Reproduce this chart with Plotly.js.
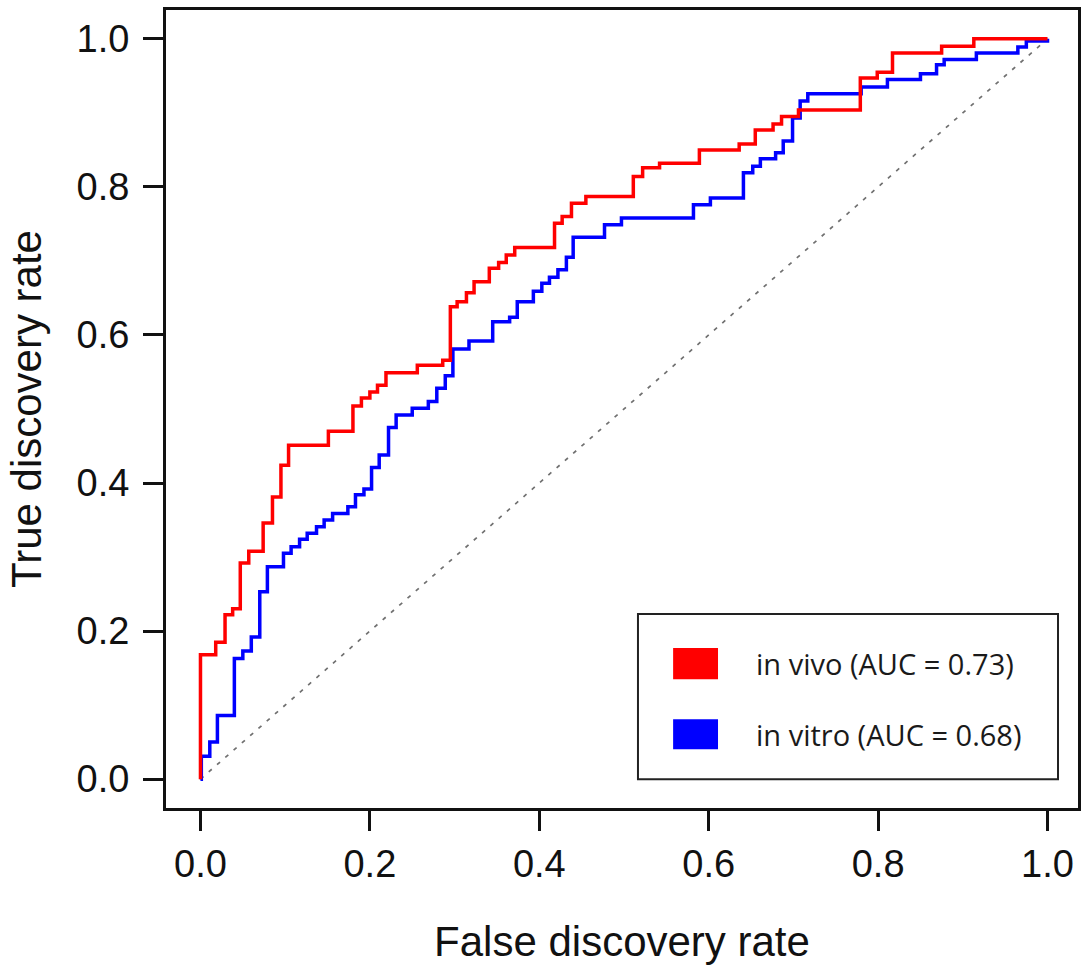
<!DOCTYPE html>
<html>
<head>
<meta charset="utf-8">
<script src="https://cdn.plot.ly/plotly-3.0.1.min.js"></script>
<style>html,body{margin:0;padding:0;background:#fff;}#chart{width:1082px;height:967px;}</style>
</head>
<body>
<div id="chart"></div>
<script>
// Series names
const seriesNames = ["in vivo (AUC = 0.73)", "in vitro (AUC = 0.68)"];
const seriesColors = ["#ff0000", "#0000ff"];

// in vivo ROC staircase: x = false discovery rate where a step occurs, y = new level
const vivoFDR = [0, 0.000, 0.018, 0.029, 0.038, 0.047, 0.057, 0.074, 0.085, 0.095, 0.104,
  0.151, 0.180, 0.190, 0.200, 0.209, 0.219, 0.256, 0.286, 0.295, 0.303, 0.314, 0.323,
  0.341, 0.352, 0.361, 0.371, 0.418, 0.427, 0.438, 0.455, 0.511, 0.522, 0.542, 0.589,
  0.636, 0.655, 0.676, 0.686, 0.706, 0.779, 0.799, 0.817, 0.875, 0.913, 1.000];
const vivoTDR = [0, 0.168, 0.185, 0.222, 0.230, 0.292, 0.308, 0.346, 0.381, 0.424, 0.451,
  0.470, 0.504, 0.515, 0.523, 0.532, 0.549, 0.559, 0.566, 0.638, 0.645, 0.657, 0.672,
  0.690, 0.698, 0.708, 0.718, 0.751, 0.760, 0.778, 0.787, 0.814, 0.826, 0.832, 0.850,
  0.858, 0.877, 0.885, 0.895, 0.904, 0.947, 0.955, 0.981, 0.990, 1.000, 1.000];

// in vitro ROC staircase
const vitroFDR = [0, 0.001, 0.011, 0.020, 0.040, 0.050, 0.060, 0.070, 0.079, 0.098, 0.107,
  0.117, 0.126, 0.137, 0.146, 0.156, 0.174, 0.183, 0.193, 0.202, 0.211, 0.222, 0.231,
  0.250, 0.269, 0.279, 0.289, 0.298, 0.317, 0.345, 0.365, 0.374, 0.393, 0.403, 0.412,
  0.422, 0.432, 0.440, 0.477, 0.497, 0.582, 0.602, 0.641, 0.652, 0.661, 0.679, 0.688,
  0.699, 0.708, 0.717, 0.780, 0.811, 0.850, 0.869, 0.878, 0.916, 0.965, 0.975, 1.000];
const vitroTDR = [0, 0.031, 0.050, 0.086, 0.163, 0.173, 0.192, 0.253, 0.287, 0.305, 0.314,
  0.324, 0.332, 0.341, 0.350, 0.359, 0.368, 0.384, 0.392, 0.421, 0.438, 0.475, 0.492,
  0.501, 0.510, 0.528, 0.545, 0.581, 0.592, 0.618, 0.624, 0.645, 0.659, 0.670, 0.678,
  0.688, 0.705, 0.732, 0.749, 0.758, 0.776, 0.785, 0.819, 0.828, 0.838, 0.846, 0.862,
  0.893, 0.916, 0.926, 0.935, 0.945, 0.953, 0.965, 0.972, 0.981, 0.989, 0.997, 1.000];

// Diagonal reference
const diagX = [0, 1];
const diagY = [0, 1];

// Axis ticks
const tickValues = [0, 0.2, 0.4, 0.6, 0.8, 1.0];
const tickLabels = ["0.0", "0.2", "0.4", "0.6", "0.8", "1.0"];

const axisFont = {family: "'Liberation Sans', Arial, Helvetica, sans-serif", size: 38, color: "#111"};
const titleFont = {family: "'Liberation Sans', Arial, Helvetica, sans-serif", size: 42, color: "#111"};

const traces = [
  {x: diagX, y: diagY, mode: "lines", line: {color: "#707070", width: 1.7, dash: "4px,7px"}, hoverinfo: "skip", showlegend: false},
  {x: vitroFDR, y: vitroTDR, mode: "lines", line: {color: seriesColors[1], width: 3.5, shape: "hv"}, name: seriesNames[1], showlegend: false},
  {x: vivoFDR, y: vivoTDR, mode: "lines", line: {color: seriesColors[0], width: 3.5, shape: "hv"}, name: seriesNames[0], showlegend: false}
];

const legendBox = {x0: 0.5165, x1: 1.0124, y0: 0.0, y1: 0.223};
const swatchX = [0.558, 0.611];
const swatchY = [[0.135, 0.177], [0.0405, 0.081]];
const labelX = 0.654;

const shapes = [
  {type: "rect", xref: "x", yref: "y", x0: legendBox.x0, x1: legendBox.x1, y0: legendBox.y0, y1: legendBox.y1,
   line: {color: "#222", width: 2}, fillcolor: "rgba(0,0,0,0)"},
  {type: "rect", xref: "x", yref: "y", x0: swatchX[0], x1: swatchX[1], y0: swatchY[0][0], y1: swatchY[0][1],
   line: {width: 0}, fillcolor: seriesColors[0]},
  {type: "rect", xref: "x", yref: "y", x0: swatchX[0], x1: swatchX[1], y0: swatchY[1][0], y1: swatchY[1][1],
   line: {width: 0}, fillcolor: seriesColors[1]}
];

const annotations = seriesNames.map((n, i) => ({
  xref: "x", yref: "y", x: labelX, y: (swatchY[i][0] + swatchY[i][1]) / 2,
  text: n, showarrow: false, xanchor: "left", yanchor: "middle",
  font: {family: "'Open Sans', 'Noto Sans', sans-serif", size: 29, color: "#1a1a1a"}
}));

const layout = {
  width: 1082, height: 967,
  margin: {l: 166, r: 4, t: 10, b: 159, pad: 0},
  paper_bgcolor: "#fff", plot_bgcolor: "#fff",
  showlegend: false,
  xaxis: {
    range: [-0.0407, 1.036], tickvals: tickValues, ticktext: tickLabels,
    ticks: "outside", ticklen: 20, tickwidth: 3, tickcolor: "#111",
    showline: true, linecolor: "#111", linewidth: 3, mirror: true,
    showgrid: false, zeroline: false, tickfont: axisFont, ticklabelstandoff: 0,
    title: {text: "False discovery rate", font: titleFont, standoff: 44}
  },
  yaxis: {
    range: [-0.039, 1.039], tickvals: tickValues, ticktext: tickLabels,
    ticks: "outside", ticklen: 20, tickwidth: 3, tickcolor: "#111",
    showline: true, linecolor: "#111", linewidth: 3, mirror: true,
    showgrid: false, zeroline: false, tickfont: axisFont, ticklabelstandoff: 6,
    title: {text: "True discovery rate", font: titleFont, standoff: 22}
  },
  shapes: shapes,
  annotations: annotations
};

Plotly.newPlot("chart", traces, layout, {displayModeBar: false, staticPlot: true});
</script>
</body>
</html>
